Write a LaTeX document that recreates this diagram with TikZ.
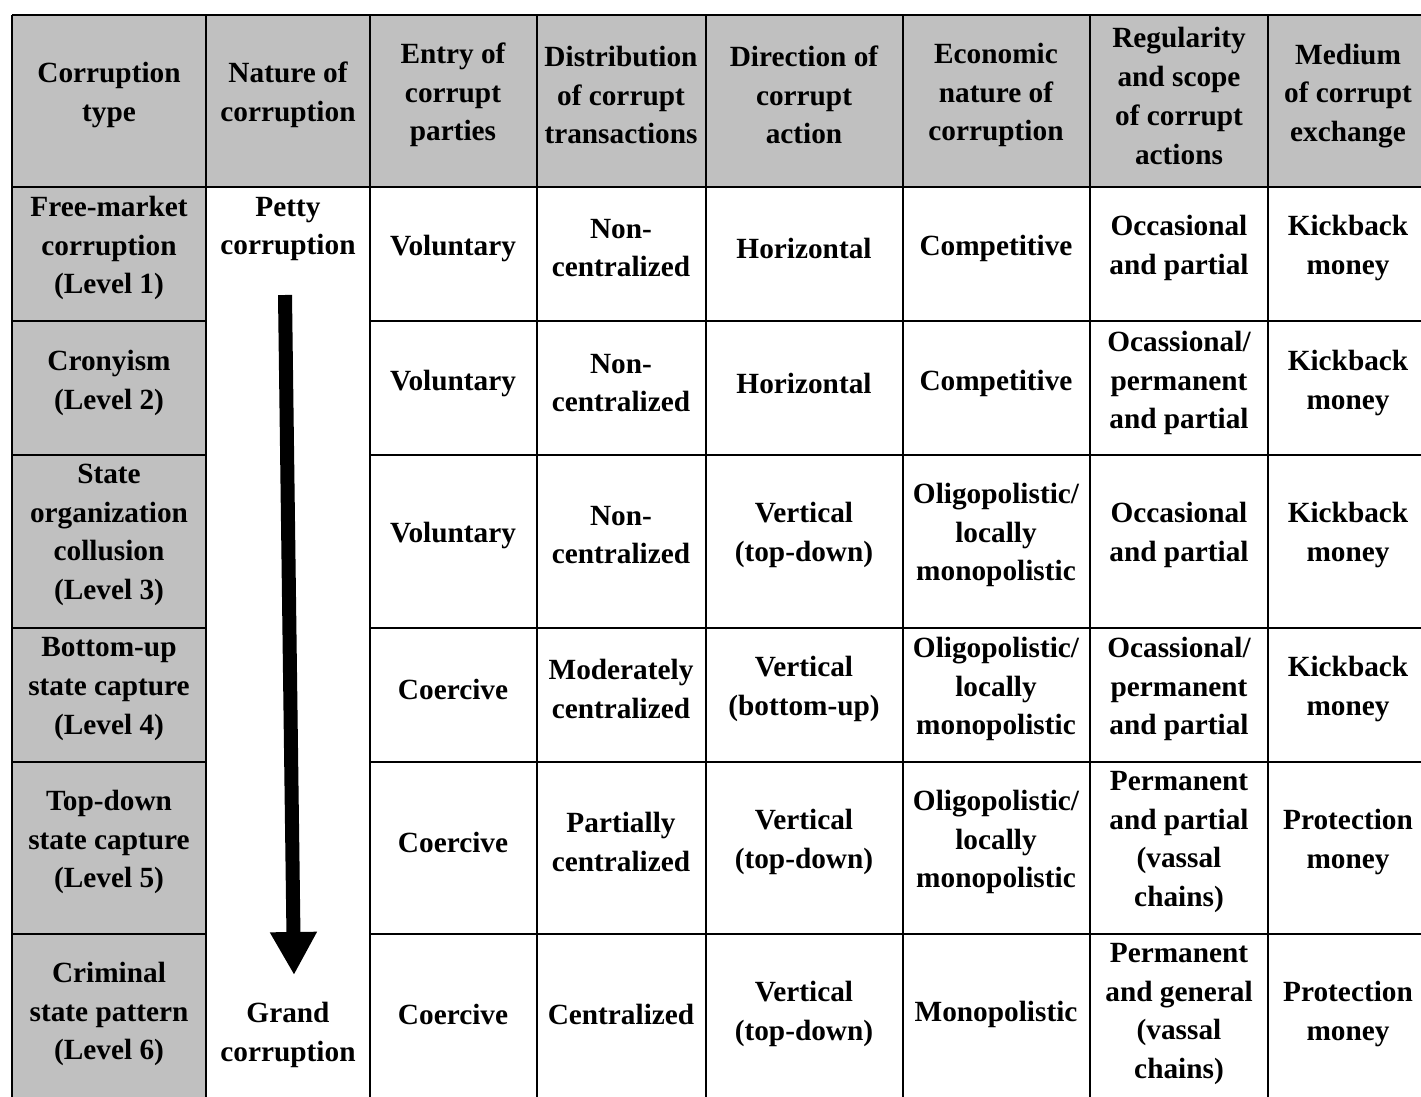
\documentclass[tikz,border=0pt]{standalone}
\usepackage{fontspec}
\setmainfont{Liberation Serif}
\usepackage{tikz}
\usetikzlibrary{arrows.meta}
\definecolor{cellgray}{RGB}{192,192,192}
\tikzstyle{cella} = [align=center,inner sep=0pt,yshift=-3pt,font={\fontsize{29.3pt}{38.8pt}\selectfont\bfseries},text=black]
\tikzstyle{griglia} = [line width=2.6pt,black]
\tikzstyle{freccia} = [line width=14pt,-{Triangle[length=43pt,width=44pt]}]

\begin{document}
\begin{tikzpicture}[x=1pt,y=-1pt]
\useasboundingbox (0,0) rectangle (1421,1097);
\clip (0,0) rectangle (1421,1097);

% shaded header row and first column
\fill[cellgray] (12,15) rectangle (1428,187);
\fill[cellgray] (12,187) rectangle (206,1106);

% grid
\foreach \xx in {12,206,370,537,706,903,1090,1268,1428}
  \draw[griglia] (\xx,15) -- (\xx,1106);
\draw[griglia] (12,15) -- (1428,15);
\draw[griglia] (12,187) -- (1428,187);
\foreach \yy in {321,455,628,762,934} {
  \draw[griglia] (12,\yy) -- (206,\yy);
  \draw[griglia] (370,\yy) -- (1428,\yy);
}

% header
\node (h1) [cella] at (109,92) {Corruption\\type};
\node (h2) [cella] at (288,92) {Nature of\\corruption};
\node (h3) [cella] at (453,92) {Entry of\\corrupt\\parties};
\node (h4) [cella] at (621,92) {Distribution\\of corrupt\\transactions};
\node (h5) [cella] at (804,92) {Direction of\\corrupt\\action};
\node (h6) [cella] at (996,92) {Economic\\nature of\\corruption};
\node (h7) [cella] at (1179,93) {Regularity\\and scope\\of corrupt\\actions};
\node (h8) [cella] at (1348,93) {Medium\\of corrupt\\exchange};

% nature of corruption
\node (petty) [cella] at (288,226) {Petty\\corruption};
\node (grand) [cella] at (288,1032) {Grand\\corruption};
\coordinate (arrtop) at (285,295);
\coordinate (arrtip) at (294,975);
\draw[freccia] (arrtop) -- (arrtip);

% level 1
\node (t1) [cella] at (109,245) {Free-market\\corruption\\(Level 1)};
\node (e1) [cella] at (453,245) {Voluntary};
\node (d1) [cella] at (621,245) {Non-\\centralized};
\node (r1) [cella] at (804,245) {Horizontal};
\node (n1) [cella] at (996,245) {Competitive};
\node (s1) [cella] at (1179,245) {Occasional\\and partial};
\node (m1) [cella] at (1348,245) {Kickback\\money};

% level 2
\node (t2) [cella] at (109,380) {Cronyism\\(Level 2)};
\node (e2) [cella] at (453,380) {Voluntary};
\node (d2) [cella] at (621,380) {Non-\\centralized};
\node (r2) [cella] at (804,380) {Horizontal};
\node (n2) [cella] at (996,380) {Competitive};
\node (s2) [cella] at (1179,380) {Ocassional/\\permanent\\and partial};
\node (m2) [cella] at (1348,380) {Kickback\\money};

% level 3
\node (t3) [cella] at (109,532) {State\\organization\\collusion\\(Level 3)};
\node (e3) [cella] at (453,532) {Voluntary};
\node (d3) [cella] at (621,532) {Non-\\centralized};
\node (r3) [cella] at (804,532) {Vertical\\(top-down)};
\node (n3) [cella] at (996,532) {Oligopolistic/\\locally\\monopolistic};
\node (s3) [cella] at (1179,532) {Occasional\\and partial};
\node (m3) [cella] at (1348,532) {Kickback\\money};

% level 4
\node (t4) [cella] at (109,686) {Bottom-up\\state capture\\(Level 4)};
\node (e4) [cella] at (453,686) {Coercive};
\node (d4) [cella] at (621,686) {Moderately\\centralized};
\node (r4) [cella] at (804,686) {Vertical\\(bottom-up)};
\node (n4) [cella] at (996,686) {Oligopolistic/\\locally\\monopolistic};
\node (s4) [cella] at (1179,686) {Ocassional/\\permanent\\and partial};
\node (m4) [cella] at (1348,686) {Kickback\\money};

% level 5
\node (t5) [cella] at (109,839) {Top-down\\state capture\\(Level 5)};
\node (e5) [cella] at (453,839) {Coercive};
\node (d5) [cella] at (621,839) {Partially\\centralized};
\node (r5) [cella] at (804,839) {Vertical\\(top-down)};
\node (n5) [cella] at (996,839) {Oligopolistic/\\locally\\monopolistic};
\node (s5) [cella] at (1179,839) {Permanent\\and partial\\(vassal\\chains)};
\node (m5) [cella] at (1348,839) {Protection\\money};

% level 6
\node (t6) [cella] at (109,1011) {Criminal\\state pattern\\(Level 6)};
\node (e6) [cella] at (453,1011) {Coercive};
\node (d6) [cella] at (621,1011) {Centralized};
\node (r6) [cella] at (804,1011) {Vertical\\(top-down)};
\node (n6) [cella] at (996,1011) {Monopolistic};
\node (s6) [cella] at (1179,1011) {Permanent\\and general\\(vassal\\chains)};
\node (m6) [cella] at (1348,1011) {Protection\\money};
\end{tikzpicture}
\end{document}
